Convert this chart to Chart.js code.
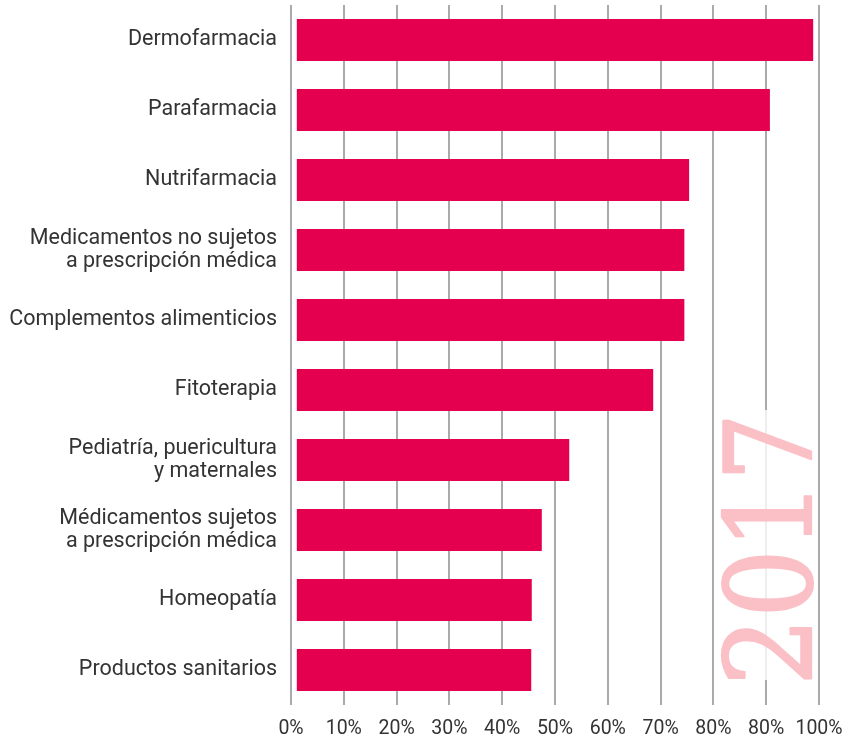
<!DOCTYPE html>
<html>
<head>
<meta charset="utf-8">
<script src="https://cdn.jsdelivr.net/npm/chart.js@4"></script>
<style>
  body { margin: 0; background: #fff; }
  #wrap { width: 849px; height: 741px; position: relative; }
</style>
</head>
<body>
<div id="wrap"><canvas id="myChart"></canvas></div>
<script>
const categories = [
  'Dermofarmacia',
  'Parafarmacia',
  'Nutrifarmacia',
  ['Medicamentos no sujetos', 'a prescripción médica'],
  'Complementos alimenticios',
  'Fitoterapia',
  ['Pediatría, puericultura', 'y maternales'],
  ['Médicamentos sujetos', 'a prescripción médica'],
  'Homeopatía',
  'Productos sanitarios'
]
const values = [98.9, 90.7, 75.4, 74.5, 74.5, 68.6, 52.7, 47.5, 45.6, 45.5]
const tickLabels = ['0%', '10%', '20%', '30%', '40%', '50%', '60%', '70%', '80%', '80%', '100%']
const yearLabel = '2017'

// big rotated year in the lower right, over a faded patch of the grid
const yearMark = {
  id: 'yearMark',
  afterDraw(chart) {
    const ctx = chart.ctx
    const cx = chart.scales.x.getPixelForValue(90)
    ctx.save()
    ctx.fillStyle = 'rgba(255,255,255,0.8)'
    ctx.fillRect(cx - 49, 410, 98, 270)
    ctx.font = '128px "DejaVu Serif"'
    const m = ctx.measureText(yearLabel)
    const w = m.actualBoundingBoxLeft + m.actualBoundingBoxRight
    const h = m.actualBoundingBoxAscent + m.actualBoundingBoxDescent
    const sx = 259 / w
    const sy = 91 / h
    ctx.translate(cx + 1, 549.5)
    ctx.rotate(-Math.PI / 2)
    ctx.scale(sx, sy)
    ctx.fillStyle = 'rgb(250,192,198)'
    ctx.strokeStyle = 'rgb(250,192,198)'
    ctx.lineWidth = 2 / Math.min(sx, sy)
    ctx.lineJoin = 'round'
    ctx.textAlign = 'left'
    ctx.textBaseline = 'alphabetic'
    const tx = m.actualBoundingBoxLeft - w / 2
    const ty = (m.actualBoundingBoxAscent - m.actualBoundingBoxDescent) / 2
    ctx.fillText(yearLabel, tx, ty)
    ctx.strokeText(yearLabel, tx, ty)
    ctx.restore()
  }
}

const ctx = document.getElementById('myChart')
new Chart(ctx, {
  type: 'bar',
  data: {
    labels: categories,
    datasets: [{
      data: values,
      base: 1.1,
      backgroundColor: '#e4004f',
      barPercentage: 0.6,
      categoryPercentage: 1.0
    }]
  },
  options: {
    indexAxis: 'y',
    responsive: true,
    maintainAspectRatio: false,
    animation: false,
    layout: { padding: { top: 5, right: 30, left: 0, bottom: 0 } },
    plugins: { legend: { display: false }, tooltip: { enabled: false } },
    scales: {
      x: {
        min: 0,
        max: 100,
        border: { display: false },
        grid: { color: '#aaaaaa', lineWidth: 2, drawTicks: false },
        ticks: {
          stepSize: 10,
          padding: 12,
          maxRotation: 0,
          minRotation: 0,
          autoSkip: false,
          color: '#333',
          font: { family: 'Roboto', size: 19.5 },
          callback: (v, i) => tickLabels[i]
        },
        afterFit(scale) {
          scale.height = 36
          scale.paddingLeft = 0
          scale.paddingRight = 0
        }
      },
      y: {
        border: { display: false },
        grid: { display: false, drawTicks: false },
        ticks: {
          padding: 14,
          color: '#333',
          font: { family: 'Roboto', size: 21.5, lineHeight: 1.07 }
        },
        afterFit(scale) {
          scale.width = 291
          scale.paddingTop = 0
          scale.paddingBottom = 0
        }
      }
    }
  },
  plugins: [yearMark]
})
</script>
</body>
</html>
